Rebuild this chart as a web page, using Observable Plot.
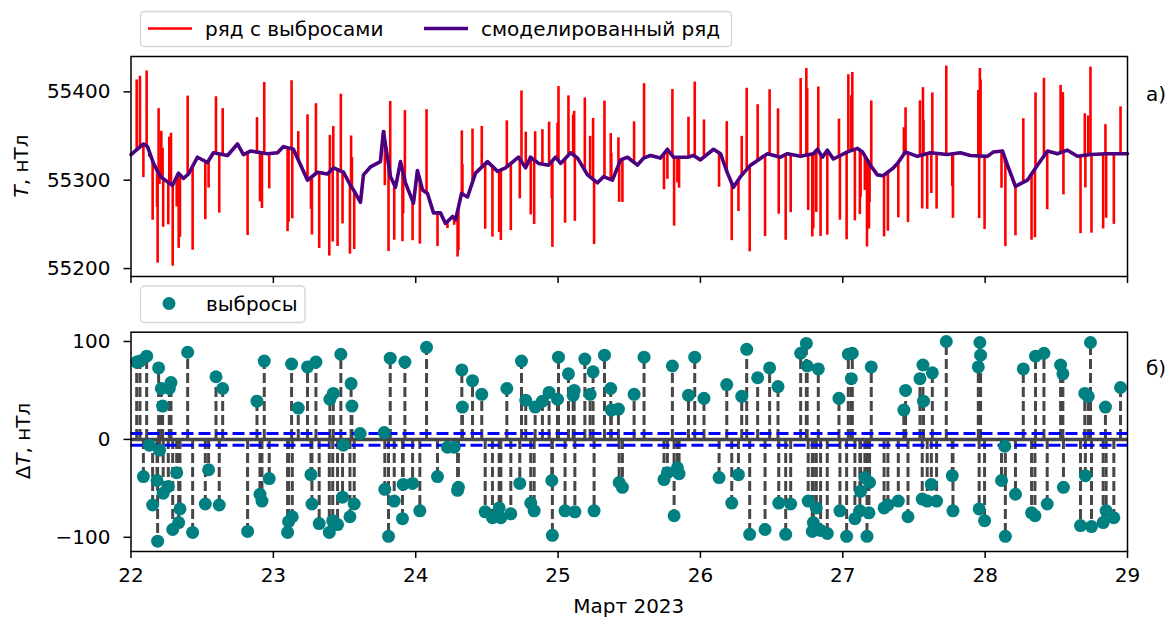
<!DOCTYPE html>
<html><head><meta charset="utf-8">
<script src="https://cdn.jsdelivr.net/npm/d3@7"></script>
<script src="https://cdn.jsdelivr.net/npm/@observablehq/plot@0.6"></script>
<style>
body{margin:0;background:#fff;}
#wrap{position:relative;width:1172px;height:621px;font-family:"DejaVu Sans",sans-serif;overflow:hidden;}
#wrap svg{position:absolute;left:0;}
</style></head><body><div id="wrap"></div>
<script>
// ---- data (days of March 2023) ----
const dayTicks = [22, 23, 24, 25, 26, 27, 28, 29];
const tickLabelsX = ["22", "23", "24", "25", "26", "27", "28", "29"];
const ticksTop = [55200, 55300, 55400];
const tickLabelsTop = ["55200", "55300", "55400"];
const ticksBottom = [-100, 0, 100];
const tickLabelsBottom = ["−100", "0", "100"];
const threshold = [-6, 6];

// modelled (smoothed) series
const modT = [22.000,22.088,22.116,22.158,22.207,22.291,22.334,22.369,22.404,22.467,22.537,22.579,22.678,22.748,22.790,22.839,22.959,23.029,23.071,23.141,23.240,23.310,23.380,23.423,23.493,23.542,23.563,23.612,23.633,23.682,23.752,23.773,23.823,23.858,23.893,23.928,23.984,24.012,24.048,24.083,24.125,24.174,24.209,24.259,24.280,24.322,24.364,24.420,24.504,24.575,24.631,24.722,24.772,24.806,24.863,24.933,24.982,25.018,25.088,25.137,25.207,25.277,25.319,25.382,25.439,25.488,25.558,25.600,25.649,25.719,25.768,25.811,25.909,25.951,26.000,26.092,26.141,26.190,26.232,26.281,26.352,26.471,26.562,26.611,26.703,26.794,26.822,26.857,26.892,26.934,27.033,27.103,27.138,27.194,27.243,27.283,27.356,27.384,27.440,27.524,27.615,27.735,27.826,27.896,28.016,28.058,28.122,28.157,28.213,28.297,28.367,28.438,28.508,28.578,28.648,28.739,28.859,29.000];
const modV = [55329,55341,55338,55319,55304,55294,55308,55302,55307,55326,55320,55331,55328,55341,55329,55333,55330,55331,55338,55335,55300,55309,55307,55314,55309,55294,55289,55275,55306,55315,55321,55355,55304,55292,55321,55297,55274,55311,55289,55285,55263,55263,55251,55259,55255,55285,55281,55308,55321,55310,55314,55326,55314,55326,55319,55317,55326,55319,55331,55325,55306,55297,55304,55300,55323,55326,55317,55325,55328,55325,55335,55326,55326,55328,55323,55335,55330,55308,55292,55304,55317,55330,55326,55330,55327,55330,55335,55326,55334,55324,55332,55336,55332,55317,55306,55305,55314,55319,55332,55327,55331,55329,55331,55328,55327,55332,55333,55317,55293,55300,55317,55333,55330,55334,55327,55329,55330,55330];

// outliers: time and deviation ΔT (nT)
const outT = [22.040,22.063,22.110,22.194,22.213,22.222,22.269,22.281,22.398,22.597,22.644,22.885,22.936,23.128,23.175,23.240,23.299,23.397,23.421,23.474,23.546,23.552,23.610,
22.129,22.200,22.087,22.152,22.187,22.183,22.226,22.262,22.293,22.335,22.344,22.321,22.433,22.522,22.545,22.620,22.819,22.906,22.920,22.971,23.100,23.107,23.133,23.264,23.271,23.322,23.393,23.417,23.451,23.491,23.486,23.568,23.538,
23.779,23.821,23.924,24.076,24.324,24.328,24.399,24.464,24.640,24.743,24.773,24.839,24.890,24.937,24.996,25.003,25.073,25.106,25.113,25.188,25.246,25.225,25.326,25.370,25.374,25.424,
23.783,23.809,23.849,23.907,23.912,23.978,24.029,24.153,24.223,24.270,24.294,24.300,24.488,24.539,24.598,24.586,24.668,24.731,24.808,24.832,24.956,24.960,25.049,25.118,25.253,25.429,25.452,
25.534,25.604,25.803,25.916,25.960,26.025,26.185,26.290,26.325,26.402,26.486,26.545,26.704,26.744,26.750,26.828,26.973,27.039,27.067,27.060,27.200,
25.744,25.768,25.838,25.850,25.815,26.131,26.220,26.267,26.346,26.454,26.550,26.599,26.634,26.757,26.814,26.793,26.786,26.844,26.891,26.980,27.027,27.085,27.120,27.125,27.155,27.188,27.184,27.170,27.290,
27.441,27.429,27.563,27.542,27.567,27.629,27.727,27.963,27.968,27.952,28.268,28.354,28.413,28.530,28.546,28.740,28.700,28.724,28.845,28.951,
27.317,27.390,27.458,27.558,27.593,27.622,27.659,27.769,27.774,27.958,27.996,28.138,28.115,28.142,28.213,28.326,28.350,28.436,28.550,28.704,28.670,28.747,28.829,28.850,28.904];
const outD = [79,80,85,73,52,34,52,58,89,64,52,39,80,77,32,74,79,41,47,87,57,34,6,
-6,-11,-38,-67,-104,-42,-55,-48,-92,-85,-71,-34,-95,-66,-31,-67,-94,-56,-63,-40,-95,-84,-79,-36,-66,-86,-95,-83,-87,-6,-59,-66,-79,
7,83,79,94,71,33,60,46,52,80,40,33,39,48,41,84,67,45,50,82,69,46,86,52,30,31,
-51,-99,-63,-81,-46,-45,-73,-38,-8,-8,-52,-49,-74,-80,-80,-70,-76,-45,-65,-73,-42,-98,-73,-74,-73,-44,-49,
46,84,75,45,84,42,56,44,92,63,73,54,88,98,75,72,42,87,88,62,74,
-41,-34,-29,-35,-78,-39,-65,-36,-97,-92,-65,-97,-66,-63,-70,-85,-94,-93,-96,-73,-99,-81,-73,-53,-39,-44,-75,-99,-70,
50,30,76,62,39,68,100,99,86,74,72,85,88,76,67,99,47,44,33,53,
-67,-63,-79,-61,-63,-46,-63,-37,-73,-71,-83,-7,-42,-99,-56,-75,-78,-66,-49,-37,-88,-89,-85,-73,-80];

// ---- derived tables ----
function baseAt(t) {
  let i = d3.bisectRight(modT, t) - 1;
  i = Math.max(0, Math.min(modT.length - 2, i));
  const f = (t - modT[i]) / (modT[i + 1] - modT[i]);
  return modV[i] + f * (modV[i + 1] - modV[i]);
}
const model = modT.map((t, i) => ({t, v: modV[i]}));
const outliers = outT.map((t, i) => ({t, d: outD[i], base: baseAt(t), val: baseAt(t) + outD[i]}));

const FONT = "DejaVu Sans";
const ML = 130.5, MR = 45;
const wrap = document.getElementById("wrap");

// ---- top panel ----
const topChart = Plot.plot({
  width: 1172, height: 300,
  marginLeft: ML, marginRight: MR, marginTop: 56, marginBottom: 24,
  style: {fontFamily: FONT, fontSize: "20px", color: "black", background: "transparent"},
  x: {domain: [22, 29], label: null},
  y: {domain: [55191, 55440], label: null},
  marks: [
    Plot.ruleX(outliers, {x: "t", y1: "base", y2: "val", stroke: "#ff0000", strokeWidth: 2.6}),
    Plot.line(model, {x: "t", y: "v", stroke: "#ff0000", strokeWidth: 2.4}),
    Plot.line(model, {x: "t", y: "v", stroke: "#4b0082", strokeWidth: 3.6, curve: "linear"}),
    Plot.frame({stroke: "black", strokeWidth: 1.5}),
    Plot.axisX({ticks: dayTicks, tickSize: 7, strokeWidth: 1.5, tickFormat: () => "", label: null}),
    Plot.axisY({ticks: ticksTop, tickSize: 7, tickPadding: 13.5, strokeWidth: 1.5, fontSize: 20,
      tickFormat: d => tickLabelsTop[ticksTop.indexOf(d)], label: null})
  ]
});
topChart.style.top = "0px";
wrap.appendChild(topChart);

// ---- bottom panel ----
const bottomChart = Plot.plot({
  width: 1172, height: 321,
  marginLeft: ML, marginRight: MR, marginTop: 31.7, marginBottom: 70,
  style: {fontFamily: FONT, fontSize: "20px", color: "black", background: "transparent"},
  x: {domain: [22, 29], label: null},
  y: {domain: [-114.5, 109.5], label: null},
  marks: [
    Plot.ruleY([0], {stroke: "#474747", strokeWidth: 3.5}),
    Plot.ruleX(outliers, {x: "t", y1: 0, y2: "d", stroke: "#474747", strokeWidth: 3, strokeDasharray: "10,4"}),
    Plot.ruleY(threshold, {stroke: "#0000ff", strokeWidth: 3, strokeDasharray: "12,5"}),
    Plot.dot(outliers, {x: "t", y: "d", r: 6.5, fill: "#008080", stroke: "none"}),
    Plot.frame({stroke: "black", strokeWidth: 1.5}),
    Plot.axisX({ticks: dayTicks, tickSize: 7, tickPadding: 9, strokeWidth: 1.5, fontSize: 20,
      tickFormat: d => tickLabelsX[dayTicks.indexOf(d)], label: null}),
    Plot.axisY({ticks: ticksBottom, tickSize: 7, tickPadding: 13.5, strokeWidth: 1.5, fontSize: 20,
      tickFormat: d => tickLabelsBottom[ticksBottom.indexOf(d)], label: null})
  ]
});
bottomChart.style.top = "300px";
wrap.appendChild(bottomChart);

// ---- overlay: legends, titles, panel labels ----
const svg = d3.select(wrap).append("svg")
  .attr("width", 1172).attr("height", 621)
  .style("top", "0px")
  .attr("font-family", FONT).attr("font-size", 20);

// top legend
svg.append("rect").attr("x", 140.5).attr("y", 11.5).attr("width", 591).attr("height", 35)
  .attr("rx", 4).attr("fill", "white").attr("stroke", "#d5d5d5").attr("stroke-width", 1.3);
svg.append("line").attr("x1", 148).attr("x2", 192).attr("y1", 28.5).attr("y2", 28.5)
  .attr("stroke", "#ff0000").attr("stroke-width", 2.6);
svg.append("text").attr("x", 205).attr("y", 29).attr("dy", "0.35em").text("ряд с выбросами");
svg.append("line").attr("x1", 424).attr("x2", 468).attr("y1", 28.5).attr("y2", 28.5)
  .attr("stroke", "#4b0082").attr("stroke-width", 3.6);
svg.append("text").attr("x", 481).attr("y", 29).attr("dy", "0.35em").text("смоделированный ряд");

// bottom legend
svg.append("rect").attr("x", 140.5).attr("y", 286).attr("width", 164.5).attr("height", 36.5)
  .attr("rx", 4).attr("fill", "white").attr("stroke", "#d5d5d5").attr("stroke-width", 1.3);
svg.append("circle").attr("cx", 169).attr("cy", 303.5).attr("r", 6.5).attr("fill", "#008080");
svg.append("text").attr("x", 206).attr("y", 304).attr("dy", "0.35em").text("выбросы");

// y titles
const t1 = svg.append("text").attr("transform", "translate(28,166) rotate(-90)").attr("text-anchor", "middle");
t1.append("tspan").attr("font-style", "italic").text("T");
t1.append("tspan").text(", нТл");
const t2 = svg.append("text").attr("transform", "translate(30,441) rotate(-90)").attr("text-anchor", "middle");
t2.append("tspan").text("Δ");
t2.append("tspan").attr("font-style", "italic").text("T");
t2.append("tspan").text(", нТл");

// x title
svg.append("text").attr("x", 628.75).attr("y", 606).attr("dy", "0.35em").attr("text-anchor", "middle").text("Март 2023");

// panel labels
svg.append("text").attr("x", 1146).attr("y", 94).attr("dy", "0.35em").text("а)");
svg.append("text").attr("x", 1146).attr("y", 368).attr("dy", "0.35em").text("б)");
</script>
</body></html>
